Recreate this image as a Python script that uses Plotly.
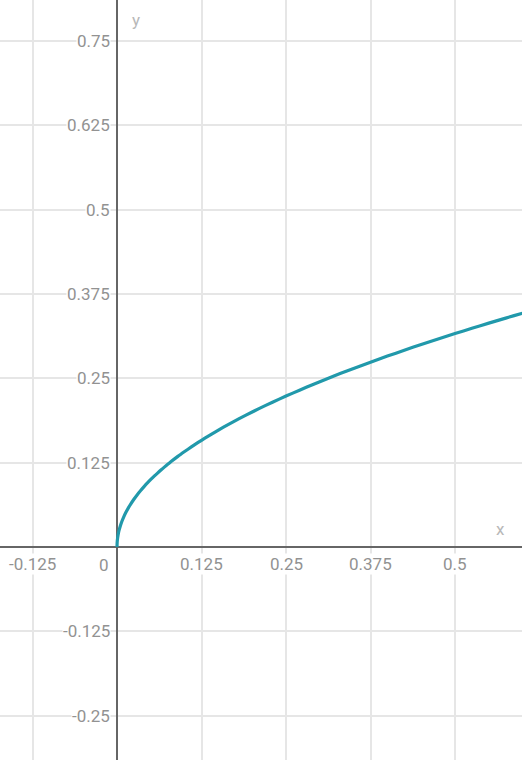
import plotly.graph_objects as go

# curve samples
curve_x = [0, 0.0002, 0.0005, 0.001, 0.002, 0.003, 0.005, 0.007, 0.01, 0.013, 0.017, 0.02, 0.025,
           0.03, 0.035, 0.04, 0.045, 0.05, 0.055, 0.06, 0.065, 0.07, 0.075, 0.08, 0.09, 0.1,
           0.11, 0.12, 0.13, 0.14, 0.15, 0.165, 0.18, 0.2, 0.22, 0.24, 0.26, 0.28, 0.3, 0.32,
           0.34, 0.36, 0.38, 0.4, 0.425, 0.45, 0.475, 0.5, 0.525, 0.55, 0.575, 0.6, 0.62]
curve_y = [0, 0.0063, 0.0100, 0.0141, 0.0200, 0.0245, 0.0316, 0.0374, 0.0447, 0.0510, 0.0583, 0.0632, 0.0707,
           0.0775, 0.0837, 0.0894, 0.0949, 0.1000, 0.1049, 0.1095, 0.1140, 0.1183, 0.1225, 0.1265, 0.1342, 0.1414,
           0.1483, 0.1549, 0.1612, 0.1673, 0.1732, 0.1817, 0.1897, 0.2000, 0.2098, 0.2191, 0.2280, 0.2366, 0.2449, 0.2530,
           0.2608, 0.2683, 0.2757, 0.2828, 0.2915, 0.3000, 0.3082, 0.3162, 0.3240, 0.3317, 0.3391, 0.3464, 0.3521]

x_ticks = [-0.125, 0.125, 0.25, 0.375, 0.5]
x_tick_labels = ["-0.125", "0.125", "0.25", "0.375", "0.5"]
y_ticks = [-0.25, -0.125, 0.125, 0.25, 0.375, 0.5, 0.625, 0.75]
y_tick_labels = ["-0.25", "-0.125", "0.125", "0.25", "0.375", "0.5", "0.625", "0.75"]

x_range = [-0.1731, 0.5991]
y_range = [-0.3156, 0.8104]

label_font = dict(family="Roboto", size=17, color="#929292")

fig = go.Figure()
fig.add_trace(go.Scatter(x=curve_x, y=curve_y, mode="lines",
                         line=dict(color="#2199ab", width=3.2, shape="spline", smoothing=0.5),
                         hoverinfo="skip", showlegend=False))

annotations = []
for v, t in zip(x_ticks, x_tick_labels):
    annotations.append(dict(x=v, y=0, xref="x", yref="y", text=t, showarrow=False,
                            xanchor="center", yanchor="top", yshift=-6,
                            bgcolor="white", font=label_font, borderpad=0))
for v, t in zip(y_ticks, y_tick_labels):
    annotations.append(dict(x=0, y=v, xref="x", yref="y", text=t, showarrow=False,
                            xanchor="right", yanchor="middle", xshift=-6,
                            bgcolor="white", font=label_font, borderpad=0))
annotations.append(dict(x=0, y=0, xref="x", yref="y", text="0", showarrow=False,
                        xanchor="right", yanchor="top", xshift=-6, yshift=-6,
                        font=label_font))
annotations.append(dict(x=x_range[1], y=0, xref="x", yref="y", text="x", showarrow=False,
                        xanchor="right", yanchor="bottom", xshift=-15, yshift=6,
                        font=dict(family="Roboto", size=17, color="#b8b8b8")))
annotations.append(dict(x=0, y=y_range[1], xref="x", yref="y", text="y", showarrow=False,
                        xanchor="left", yanchor="top", xshift=13, yshift=-8,
                        font=dict(family="Roboto", size=17, color="#b8b8b8")))

fig.update_layout(
    width=522, height=760,
    margin=dict(l=0, r=0, t=0, b=0),
    paper_bgcolor="white", plot_bgcolor="white",
    xaxis=dict(range=x_range, tickvals=x_ticks, showticklabels=False,
               showgrid=True, gridcolor="#e6e6e6", gridwidth=2,
               zeroline=True, zerolinecolor="#666666", zerolinewidth=2,
               showline=False, fixedrange=True),
    yaxis=dict(range=y_range, tickvals=y_ticks, showticklabels=False,
               showgrid=True, gridcolor="#e6e6e6", gridwidth=2,
               zeroline=True, zerolinecolor="#666666", zerolinewidth=2,
               showline=False, fixedrange=True),
    annotations=annotations,
)
fig.write_html("out.html", config={"displayModeBar": False},
               post_script="document.body.style.margin='0';document.body.style.overflow='hidden';")
